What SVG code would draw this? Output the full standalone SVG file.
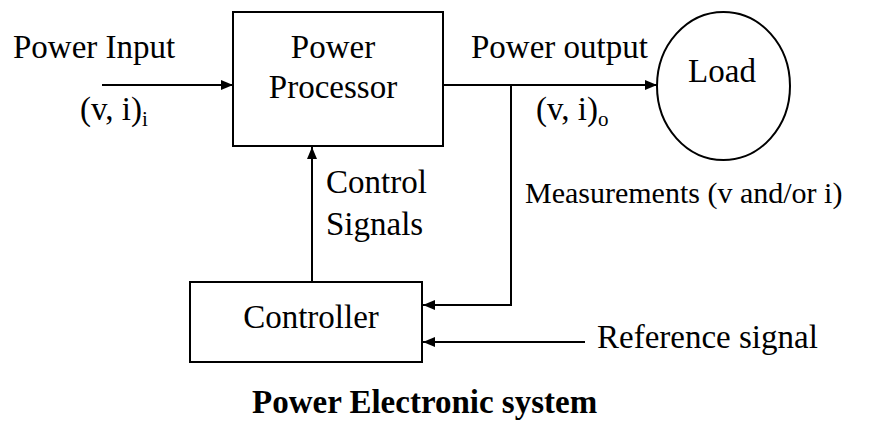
<svg xmlns="http://www.w3.org/2000/svg" width="879" height="421" viewBox="0 0 879 421">
<defs>
<style>
text{font-family:"Liberation Serif","Times New Roman",serif;fill:#000;font-size:33px}
.sub{font-size:21px}
.box{fill:#fff;stroke:#000;stroke-width:2}
.wire{fill:none;stroke:#000;stroke-width:2}
.title{font-weight:bold;font-size:33px}
</style>
<marker id="arr" markerWidth="12" markerHeight="10" refX="12" refY="5" orient="auto" markerUnits="userSpaceOnUse">
<path d="M0,0 L12,5 L0,10 Z" fill="#000"/>
</marker>
</defs>
<rect width="879" height="421" fill="#fff"/>
<g id="connectors">
<line class="wire" x1="102" y1="85" x2="233" y2="85" marker-end="url(#arr)"/>
<line class="wire" x1="443" y1="85" x2="657" y2="85" marker-end="url(#arr)"/>
<line class="wire" x1="312" y1="282" x2="312" y2="147" marker-end="url(#arr)"/>
<polyline class="wire" points="511,85 511,305 423,305" marker-end="url(#arr)"/>
<line class="wire" x1="585" y1="342" x2="423" y2="342" marker-end="url(#arr)"/>
</g>
<g id="power-processor">
<rect class="box" x="233" y="12" width="210" height="134"/>
<text x="333" y="58" text-anchor="middle">Power</text>
<text x="333" y="98" text-anchor="middle">Processor</text>
</g>
<g id="load">
<ellipse class="box" cx="723.5" cy="86" rx="66.5" ry="74"/>
<text x="722" y="82" text-anchor="middle">Load</text>
</g>
<g id="controller">
<rect class="box" x="190" y="282" width="232" height="80"/>
<text x="311" y="328" text-anchor="middle">Controller</text>
</g>
<g id="labels">
<text x="13" y="58">Power Input</text>
<text x="80" y="120">(v, i)<tspan class="sub" dy="6">i</tspan></text>
<text x="471" y="58">Power output</text>
<text x="536" y="120">(v, i)<tspan class="sub" dy="6">o</tspan></text>
<text x="326" y="193">Control</text>
<text x="326" y="235">Signals</text>
<text x="525" y="203" style="font-size:30px">Measurements (v and/or i)</text>
<text x="597" y="348">Reference signal</text>
<text class="title" x="252" y="413">Power Electronic system</text>
</g>
</svg>
